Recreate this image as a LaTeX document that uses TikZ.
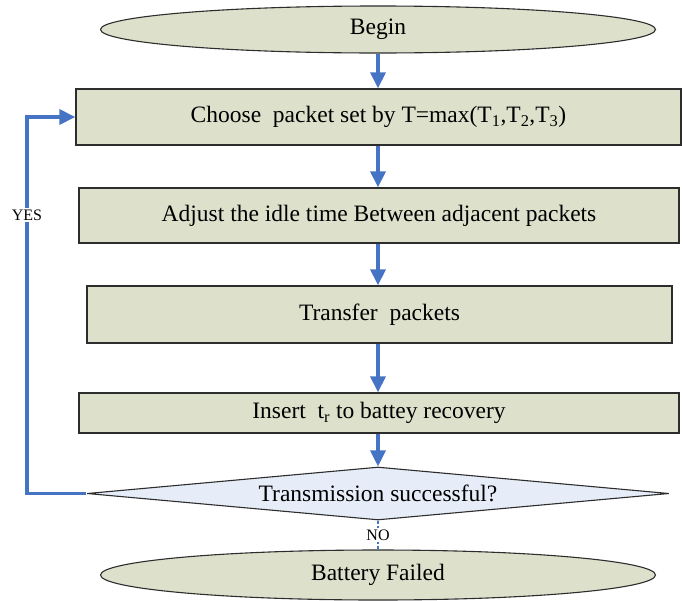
\documentclass[tikz,border=0pt]{standalone}
\usepackage{fontspec}
\setmainfont{Liberation Serif}
\usetikzlibrary{shapes.geometric,arrows.meta}
\definecolor{boxgreen}{RGB}{221,225,203}
\definecolor{askblue}{RGB}{230,237,248}
\definecolor{flowblue}{RGB}{70,116,196}
\definecolor{edgegray}{RGB}{45,45,45}

\begin{document}
\begin{tikzpicture}[x=1pt,y=-1pt,
        every node/.style={font=\fontsize{23.5}{27}\selectfont, inner sep=0pt},
        terminal/.style={ellipse, draw=edgegray, line width=1.1pt, fill=boxgreen},
        process/.style={rectangle, draw=edgegray, line width=1.3pt, fill=boxgreen},
        decision/.style={diamond, draw=edgegray, line width=1.1pt, fill=askblue},
        flow/.style={draw=flowblue, line width=3.4pt, -{Triangle[length=16pt,width=15pt]}},
        tag/.style={font=\fontsize{16}{18}\selectfont, fill=white, inner sep=1.5pt}
    ]
        \useasboundingbox (0,0) rectangle (682,600);
        % Add steps
        \node (begin) at (378,29.5) [terminal, minimum width=555pt, minimum height=47pt] {Begin};
        \node (choose) at (378.5,117) [process, minimum width=605pt, minimum height=56pt]
            {Choose~ packet set by T=max(T\textsubscript{1},T\textsubscript{2},T\textsubscript{3})};
        \node (adjust) at (379,215.5) [process, minimum width=600pt, minimum height=55pt]
            {Adjust the idle time Between adjacent packets};
        \node (transfer) at (379.5,314.5) [process, minimum width=585pt, minimum height=57pt]
            {Transfer~ packets};
        \node (insert) at (379,413) [process, minimum width=600pt, minimum height=40pt]
            {Insert~ t\textsubscript{r} to battey recovery};
        \node (decide) at (378,493.5) [decision, aspect=11, minimum width=582pt, minimum height=53pt]
            {Transmission successful?};
        \node (fail) at (378,575) [terminal, minimum width=555pt, minimum height=50pt] {Battery Failed};
        \coordinate (loop) at (27,493.5);
        % Draw arrows between steps
        \draw[flow] (begin.south) -- (begin.south |- choose.north);
        \draw[flow] (begin.south |- choose.south) -- (begin.south |- adjust.north);
        \draw[flow] (begin.south |- adjust.south) -- (begin.south |- transfer.north);
        \draw[flow] (begin.south |- transfer.south) -- (begin.south |- insert.north);
        \draw[flow] (begin.south |- insert.south) -- (decide.north);
        \draw[flow] (decide.west) -- (loop) |- (choose.west)
            node[tag, pos=0.37] {YES};
        \draw[draw=flowblue, line width=2pt, dash pattern=on 3pt off 2pt] (decide.south) -- (fail.north)
            node[tag, midway] {NO};
    \end{tikzpicture}
\end{document}
